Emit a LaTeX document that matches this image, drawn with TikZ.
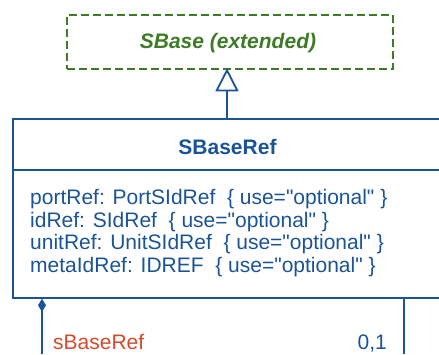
\documentclass[tikz,border=0pt]{standalone}
\usepackage{fontspec}
\setmainfont{Liberation Sans}[Ligatures=TeXOff]
\usetikzlibrary{arrows.meta}
\definecolor{umlblue}{HTML}{1B5496}
\definecolor{umlgreen}{HTML}{3E7B27}
\definecolor{umlred}{HTML}{D24B2A}
\tikzset{
  basebox/.style={draw=umlgreen, line width=1.6pt, dash pattern=on 8pt off 4pt, inner sep=0pt, anchor=north west},
  classbox/.style={draw=umlblue, line width=1.8pt, inner sep=0pt, anchor=north west},
  attr/.style={text=umlblue, font=\fontsize{21}{22.7}\selectfont, anchor=base west, inner sep=0pt},
  conn/.style={draw=umlblue, line width=1.8pt},
}
\begin{document}
\begin{tikzpicture}[x=1pt,y=-1pt]
\useasboundingbox (0,0) rectangle (439,354);
\clip (0,0) rectangle (439,354);
% superclass
\node[basebox, minimum width=326pt, minimum height=54pt] (base) at (66,14) {};
\node[text=umlgreen, font=\bfseries\itshape\fontsize{21}{24}\selectfont, anchor=base, inner sep=0pt] (basetxt) at (228,48.5) {SBase (extended)};
% class
\node[classbox, minimum width=450pt, minimum height=179pt] (cls) at (12,118) {};
\draw[conn] (cls.west |- 0,170) -- (462,170);
\node[text=umlblue, font=\bfseries\fontsize{21}{24}\selectfont, anchor=base, inner sep=0pt] (title) at (227.5,154.7) {SBaseRef};
\node[attr] (a1) at (30,204.5) {portRef: PortSIdRef\ \ \{ use="optional" \}};
\node[attr] (a2) at (30,227.2) {idRef: SIdRef\ \ \{ use="optional" \}};
\node[attr] (a3) at (30,249.9) {unitRef: UnitSIdRef\ \ \{ use="optional" \}};
\node[attr] (a4) at (30,272.6) {metaIdRef: IDREF\ \ \{ use="optional" \}};
% inheritance
\coordinate (inhTop) at (227,68.3);
\draw[conn, -{Triangle[open, length=23pt, width=23pt, fill=white]}] (cls.north -| inhTop) -- (inhTop);
% self association
\coordinate (assocL) at (42,354);
\coordinate (assocR) at (404,354);
\draw[conn, {Diamond[length=13pt, width=8pt]}-] (cls.south -| assocL) -- (assocL);
\draw[conn] (cls.south -| assocR) -- (assocR);
\node[text=umlred, font=\fontsize{21}{24}\selectfont, anchor=base west, inner sep=0pt] (role) at (53,349) {sBaseRef};
\node[text=umlblue, font=\fontsize{21}{24}\selectfont, anchor=base east, inner sep=0pt] (mult) at (387,349) {0,1};
\end{tikzpicture}
\end{document}
